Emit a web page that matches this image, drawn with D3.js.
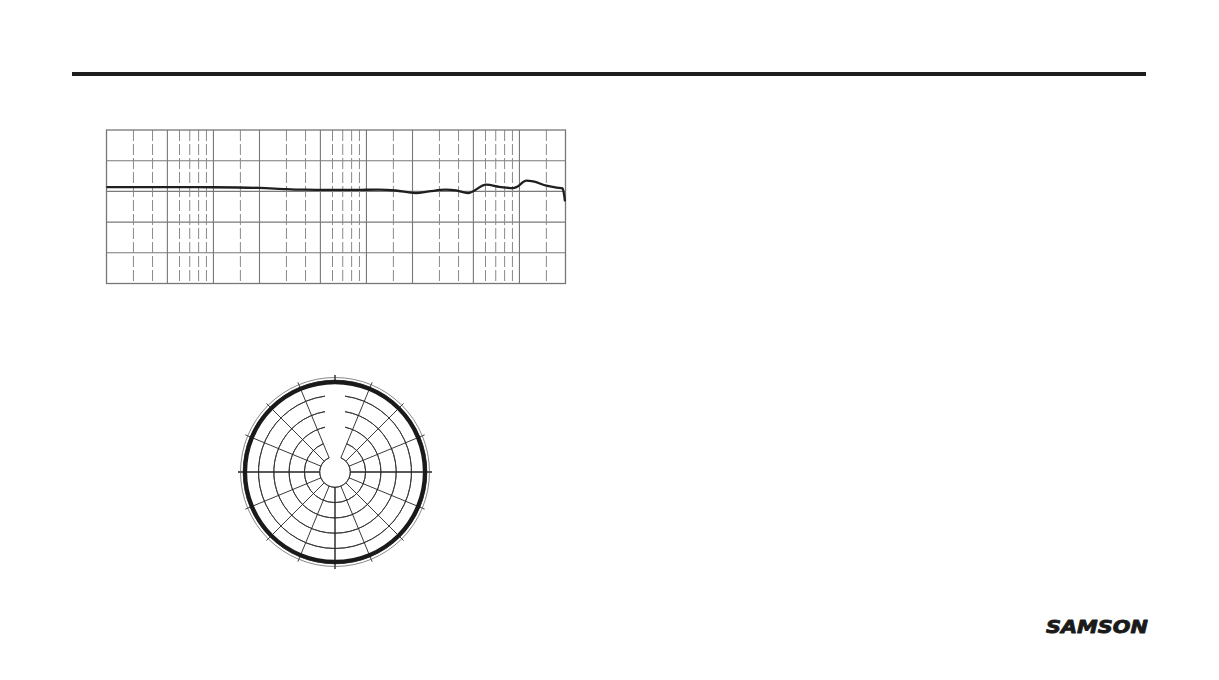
<!DOCTYPE html>
<html>
<head>
<meta charset="utf-8">
<script src="https://cdn.jsdelivr.net/npm/d3@7"></script>
<style>
  html, body { margin: 0; padding: 0; background: #fff; }
  svg { display: block; }
</style>
</head>
<body>
<svg id="chart" width="1219" height="680"></svg>
<script>
// ---------- DATA ----------
// Frequency response (Hz, dB)
const respFreq = [20, 50, 100, 200, 300, 400, 730, 1200, 1550, 2100, 2570, 3300, 3850, 4600, 6070, 7380, 9080, 9550, 11100, 12300, 15000, 17500, 19150, 19500, 19850];
const respDb   = [1.4, 1.4, 1.35, 1.14, 0.75, 0.55, 0.5, 0.55, 0.3, -0.55, 0.0, 0.55, 0.3, -0.55, 2.2, 1.5, 1.07, 1.4, 3.5, 3.25, 1.85, 1.2, 0.97, -0.55, -3.25];
// Grid frequencies: solid lines and dashed lines
const gridSolid  = [50, 100, 200, 500, 1000, 2000, 5000, 10000];
const gridDashed = [30, 40, 60, 70, 80, 90, 150, 300, 400, 600, 700, 800, 900, 1500, 3000, 4000, 6000, 7000, 8000, 9000, 15000];
const freqDomain = [20, 20000];
const dbTicks = [20, 10, 0, -10, -20, -30];

// Polar pattern (degrees, dB)
const ringLevels = [-25, -20, -15, -10, -5, 0];
const spokeAngles = [0, 22.5, 45, 67.5, 90, 112.5, 135, 157.5, 180, 202.5, 225, 247.5, 270, 292.5, 315, 337.5];
const patternAngles = [0, 22.5, 45, 67.5, 90, 112.5, 135, 157.5, 180, 202.5, 225, 247.5, 270, 292.5, 315, 337.5];
const patternDb     = [-0.6, -0.6, -0.6, -0.6, -0.6, -0.6, -0.6, -0.6, -0.6, -0.6, -0.6, -0.6, -0.6, -0.6, -0.6, -0.6];

const brand = "SAMSON";

// ---------- DRAW ----------
const svg = d3.select("#chart");

// header rule
svg.append("rect").attr("x", 72).attr("y", 72).attr("width", 1074).attr("height", 4).attr("fill", "#1e1e1e");

// ---- frequency response ----
const fr = { x0: 106.5, x1: 565.5, y0: 130, y1: 283.5 };
const x = d3.scaleLog().domain(freqDomain).range([fr.x0, fr.x1]);
const y = d3.scaleLinear().domain([-30, 20]).range([fr.y1, fr.y0]);
const gFr = svg.append("g");

gFr.selectAll("line.hgrid").data(dbTicks.slice(1, -1)).join("line")
  .attr("x1", fr.x0).attr("x2", fr.x1)
  .attr("y1", d => y(d)).attr("y2", d => y(d))
  .attr("stroke", "#7a7a7a").attr("stroke-width", 1.1);

gFr.selectAll("line.vs").data(gridSolid).join("line")
  .attr("x1", d => x(d)).attr("x2", d => x(d))
  .attr("y1", fr.y0).attr("y2", fr.y1)
  .attr("stroke", "#777").attr("stroke-width", 1.1);

gFr.selectAll("line.vd").data(gridDashed).join("line")
  .attr("x1", d => x(d)).attr("x2", d => x(d))
  .attr("y1", fr.y0).attr("y2", fr.y1)
  .attr("stroke", "#8a8a8a").attr("stroke-width", 1)
  .attr("stroke-dasharray", "11,3");

gFr.append("rect")
  .attr("x", fr.x0).attr("y", fr.y0)
  .attr("width", fr.x1 - fr.x0).attr("height", fr.y1 - fr.y0)
  .attr("fill", "none").attr("stroke", "#777").attr("stroke-width", 1.3);

const respData = respFreq.map((f, i) => [f, respDb[i]]);
gFr.append("path")
  .datum(respData)
  .attr("d", d3.line().x(d => x(d[0])).y(d => y(d[1])).curve(d3.curveMonotoneX))
  .attr("fill", "none").attr("stroke", "#1f1f1f").attr("stroke-width", 2.3)
  .attr("stroke-linejoin", "round");

// ---- polar pattern ----
const cx = 335, cy = 472;
const r = d3.scaleLinear().domain([-30, 0]).range([0, 91.8]);
const gP = svg.append("g").attr("transform", `translate(${cx},${cy})`);
const toRad = a => a * Math.PI / 180;

// rings (inner rings have a gap at top for labels)
ringLevels.forEach((lv, i) => {
  const rr = r(lv);
  if (i === ringLevels.length - 1) {
    gP.append("circle").attr("r", rr).attr("fill", "none").attr("stroke", "#333").attr("stroke-width", 0.9);
  } else {
    const half = rr < 35 ? toRad(22.5) : Math.asin(10 / rr);
    gP.append("path")
      .attr("d", d3.arc().innerRadius(rr).outerRadius(rr).startAngle(half).endAngle(2 * Math.PI - half)())
      .attr("fill", "none").attr("stroke", "#333").attr("stroke-width", 0.9);
  }
});

// spokes
const rIn = r(ringLevels[0]);
const rOut = 97;
gP.selectAll("line.spoke").data(spokeAngles).join("line")
  .attr("x1", d => (d === 0 ? 88.5 : rIn) * Math.sin(toRad(d)))
  .attr("y1", d => -(d === 0 ? 88.5 : rIn) * Math.cos(toRad(d)))
  .attr("x2", d => rOut * Math.sin(toRad(d)))
  .attr("y2", d => -rOut * Math.cos(toRad(d)))
  .attr("stroke", "#222")
  .attr("stroke-width", d => (d % 90 === 0 ? 1.4 : 0.9));

// outer frame ring
gP.append("circle").attr("r", 94.5).attr("fill", "none").attr("stroke", "#555").attr("stroke-width", 0.7);

// pattern
const patData = patternAngles.map((a, i) => [toRad(a), r(patternDb[i])]);
gP.append("path")
  .datum(patData)
  .attr("d", d3.lineRadial().angle(d => d[0]).radius(d => d[1]).curve(d3.curveCardinalClosed))
  .attr("fill", "none").attr("stroke", "#1a1a1a").attr("stroke-width", 4.2);

// ---- brand ----
svg.append("text")
  .attr("x", 1046).attr("y", 632.5)
  .attr("font-family", "'DejaVu Sans', sans-serif")
  .attr("font-weight", "bold").attr("font-style", "italic")
  .attr("font-size", 18.5)
  .attr("textLength", 102).attr("lengthAdjust", "spacingAndGlyphs")
  .attr("fill", "#1a1a1a")
  .attr("stroke", "#1a1a1a").attr("stroke-width", 0.9).attr("stroke-linejoin", "round")
  .text(brand);
</script>
</body>
</html>
